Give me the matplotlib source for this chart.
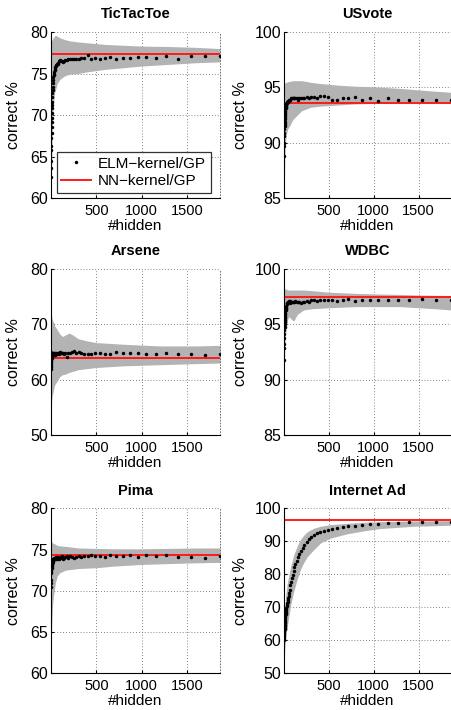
import matplotlib
matplotlib.use('Agg')
import matplotlib.pyplot as plt

plt.rcParams['font.family'] = ['Liberation Sans', 'DejaVu Sans']

# ---------------- data ----------------
x_hidden = [1, 2, 3, 4, 5, 6, 7, 8, 9, 10, 11, 12, 13, 14, 16, 17, 19, 21, 23, 26,
            28, 31, 34, 37, 41, 45, 50, 55, 60, 66, 73, 80, 88, 97, 107, 117, 129,
            142, 156, 172, 189, 208, 229, 252, 277, 304, 335, 368, 405, 446, 490,
            539, 593, 653, 718, 790, 869, 956, 1051, 1156, 1272, 1399, 1539, 1693, 1862]

titles = ['TicTacToe', 'USvote', 'Arsene', 'WDBC', 'Pima', 'Internet Ad']
nn_kernel = [77.3, 93.6, 64.0, 97.5, 74.35, 96.6]
y_ticks = [[60, 65, 70, 75, 80], [85, 90, 95, 100], [50, 60, 70, 80],
           [85, 90, 95, 100], [60, 65, 70, 75, 80], [50, 60, 70, 80, 90, 100]]
x_ticks = [500, 1000, 1500]
x_max = 1862

ttt_elm = [62.5, 63.6, 64.5, 65.8, 66.3, 67.2, 67.8, 68.5, 69.2, 69.6, 70.3, 70.8, 71.2, 71.6,
           72.2, 72.6, 73.0, 73.4, 73.8, 74.2, 74.6, 74.8, 75.0, 75.2, 75.4, 75.6, 75.8, 75.9,
           76.0, 76.1, 76.2, 76.3, 76.5, 76.6, 76.5, 76.5, 76.4, 76.5, 76.6, 76.6, 76.7, 76.7,
           76.8, 76.8, 76.8, 76.8, 76.9, 76.9, 77.2, 76.8, 76.9, 76.8, 76.9, 77.0, 76.8, 76.9,
           76.9, 77.0, 77.0, 76.9, 77.1, 76.8, 77.1, 77.1, 77.1]
ttt_band_x = [1, 3, 6, 10, 15, 25, 40, 50, 70, 100, 150, 200, 300, 400, 600, 800, 1000, 1300, 1600, 1862]
ttt_band_hi = [78.8, 78.8, 78.9, 79.0, 79.1, 79.3, 79.5, 79.6, 79.5, 79.3, 79.1, 78.95, 78.8, 78.7,
               78.5, 78.4, 78.3, 78.25, 78.15, 78.0]
ttt_band_lo = [60.0, 60.5, 62.0, 65.0, 68.5, 71.0, 72.6, 73.0, 73.8, 74.3, 74.7, 74.9, 75.0, 75.2,
               75.5, 75.7, 75.9, 76.1, 76.3, 76.4]

usv_elm = [88.8, 89.7, 90.0, 90.6, 90.9, 91.2, 91.5, 91.7, 91.9, 92.1, 92.3, 92.5, 92.6, 92.8,
           92.9, 93.0, 93.1, 93.2, 93.3, 93.4, 93.5, 93.6, 93.6, 93.7, 93.7, 93.8, 93.8, 93.8,
           93.9, 93.9, 93.9, 94.0, 94.0, 94.0, 94.0, 94.0, 94.0, 94.0, 93.9, 94.0, 94.0, 94.0,
           94.0, 94.1, 94.0, 94.1, 94.1, 94.0, 94.2, 94.2, 94.1, 93.9, 93.9, 94.0, 94.0, 94.1,
           93.9, 94.0, 93.8, 94.0, 93.9, 93.9, 93.9, 93.9, 93.9]
usv_band_x = [1, 3, 6, 10, 15, 25, 40, 70, 100, 150, 200, 300, 400, 600, 800, 1000, 1300, 1600, 1862]
usv_band_hi = [95.3, 95.3, 95.35, 95.4, 95.4, 95.45, 95.5, 95.55, 95.6, 95.6, 95.6, 95.45, 95.35,
               95.2, 95.1, 95.05, 94.9, 94.7, 94.55]
usv_band_lo = [85.0, 85.5, 87.0, 88.5, 89.7, 90.6, 91.2, 91.6, 92.1, 92.5, 92.9, 93.2, 93.3, 93.4,
               93.5, 93.55, 93.6, 93.6, 93.6]

ars_elm = [62.0, 62.3, 62.7, 63.0, 63.3, 63.6, 64.0, 64.3, 64.6, 64.8, 64.5, 64.9, 64.6, 64.8,
           64.5, 64.9, 64.4, 64.7, 64.9, 64.5, 64.6, 64.7, 64.5, 64.8, 64.5, 64.6, 64.8, 64.7,
           64.9, 64.7, 64.8, 64.9, 64.7, 65.0, 64.9, 64.8, 64.9, 64.7, 64.8, 64.1, 64.9, 64.9,
           65.0, 65.1, 64.9, 65.0, 64.8, 64.7, 64.6, 64.6, 64.9, 64.8, 64.6, 64.6, 65.0, 64.8,
           64.8, 64.9, 64.6, 64.7, 64.9, 64.6, 64.7, 64.5, 64.6]
ars_band_x = [1, 3, 6, 10, 15, 25, 40, 70, 100, 130, 160, 200, 240, 300, 400, 500, 800, 1200, 1600, 1862]
ars_band_hi = [72.3, 72.0, 71.6, 71.2, 70.9, 70.5, 69.8, 69.0, 68.2, 67.8, 68.1, 68.4, 68.1, 67.4,
               67.0, 66.7, 66.4, 66.1, 66.1, 66.2]
ars_band_lo = [50.5, 54.0, 55.5, 56.5, 57.2, 57.8, 59.0, 59.8, 60.6, 60.9, 61.0, 61.3, 61.5, 61.8,
               62.0, 62.2, 62.5, 62.7, 62.9, 63.0]

wdbc_elm = [91.8, 92.9, 93.2, 93.8, 94.1, 94.5, 94.8, 95.0, 95.2, 95.4, 95.6, 95.7, 95.8, 95.9,
            96.0, 96.2, 96.3, 96.4, 96.5, 96.6, 96.7, 96.8, 96.9, 96.9, 97.0, 97.0, 97.0, 97.1,
            97.0, 96.9, 97.1, 97.0, 97.0, 97.0, 97.0, 97.0, 97.1, 97.0, 97.0, 97.0, 96.9, 97.0,
            97.0, 97.1, 97.0, 97.2, 97.2, 97.1, 97.2, 97.2, 97.2, 97.2, 97.1, 97.2, 97.3, 97.1,
            97.2, 97.2, 97.2, 97.2, 97.2, 97.2, 97.3, 97.2, 97.2]
wdbc_band_x = [1, 3, 6, 10, 20, 40, 55, 90, 110, 150, 220, 300, 500, 800, 1000, 1300, 1500, 1700, 1862]
wdbc_band_hi = [98.2, 98.2, 98.2, 98.2, 98.2, 98.1, 98.1, 98.1, 98.1, 98.1, 98.1, 98.05, 97.9,
                97.8, 97.75, 97.7, 97.65, 97.62, 97.6]
wdbc_band_lo = [85.0, 87.5, 91.0, 93.0, 94.3, 95.4, 95.7, 95.4, 95.3, 95.9, 96.3, 96.4, 96.5, 96.6,
                96.6, 96.6, 96.5, 96.4, 96.3]

pima_elm = [70.4, 71.0, 71.3, 72.1, 72.3, 72.5, 72.8, 73.0, 73.1, 73.2, 73.3, 73.4, 73.5, 73.6,
            73.5, 73.6, 73.7, 73.5, 73.8, 73.7, 73.9, 73.8, 73.9, 74.0, 73.9, 74.0, 74.0, 73.9,
            74.1, 74.0, 73.9, 74.1, 73.8, 74.0, 74.1, 74.2, 73.9, 74.0, 74.1, 74.2, 74.0, 74.2,
            74.1, 74.0, 74.1, 74.2, 74.1, 74.2, 74.2, 74.3, 74.2, 74.2, 74.1, 74.3, 74.2, 74.2,
            74.3, 74.1, 74.4, 74.2, 74.3, 74.1, 74.1, 74.0, 74.2]
pima_band_x = [1, 3, 6, 10, 20, 30, 50, 70, 100, 160, 300, 500, 700, 1000, 1300, 1600, 1862]
pima_band_hi = [76.0, 76.0, 76.0, 75.9, 75.8, 75.75, 75.65, 75.5, 75.45, 75.4, 75.2, 75.15, 75.1,
                75.1, 75.15, 75.2, 75.2]
pima_band_lo = [60.5, 62.5, 64.5, 66.3, 68.5, 69.5, 71.0, 71.8, 72.2, 72.5, 72.7, 72.8, 73.0,
                73.2, 73.3, 73.4, 73.45]

iad_elm = [60.0, 60.4, 61.0, 61.6, 62.2, 62.8, 63.3, 63.8, 64.3, 64.7, 65.1, 65.5, 65.9, 66.3,
           67.0, 67.3, 67.8, 68.3, 68.8, 69.4, 69.8, 70.3, 70.7, 71.2, 71.7, 72.2, 72.8, 73.4,
           74.3, 75.3, 76.6, 77.8, 78.8, 79.8, 81.0, 82.1, 83.1, 84.1, 85.2, 86.1, 87.0, 87.9,
           88.9, 89.8, 90.7, 91.4, 92.0, 92.5, 92.9, 93.3, 93.6, 93.9, 94.1, 94.4, 94.6, 94.8,
           95.0, 95.2, 95.4, 95.6, 95.7, 95.8, 95.9, 96.0, 96.0]
iad_band_x = [1, 3, 6, 10, 20, 37, 74, 111, 148, 185, 222, 259, 333, 407, 518, 703, 888, 1073, 1443, 1862]
iad_band_hi = [66.0, 67.0, 68.5, 70.0, 73.5, 77.1, 82.3, 86.0, 88.6, 90.6, 91.9, 92.9, 94.0, 94.6,
               95.1, 95.5, 95.8, 96.0, 96.2, 96.3]
iad_band_lo = [50.0, 52.0, 55.0, 57.5, 61.0, 64.0, 70.5, 75.0, 78.5, 81.5, 83.6, 85.3, 87.5, 89.5,
               91.0, 92.3, 93.2, 93.9, 94.6, 94.9]

elm_series = [ttt_elm, usv_elm, ars_elm, wdbc_elm, pima_elm, iad_elm]
band_x = [ttt_band_x, usv_band_x, ars_band_x, wdbc_band_x, pima_band_x, iad_band_x]
band_hi = [ttt_band_hi, usv_band_hi, ars_band_hi, wdbc_band_hi, pima_band_hi, iad_band_hi]
band_lo = [ttt_band_lo, usv_band_lo, ars_band_lo, wdbc_band_lo, pima_band_lo, iad_band_lo]

# ---------------- layout ----------------
W, H = 452, 710
fig = plt.figure(figsize=(W / 100, H / 100), dpi=100)
col_px = [(51, 220), (284, 451)]
row_px = [(32, 198), (269, 435), (508.5, 673)]

for i in range(6):
    r, c = divmod(i, 2)
    l, rgt = col_px[c]
    t, b = row_px[r]
    ax = fig.add_axes([l / W, 1 - b / H, (rgt - l) / W, (b - t) / H])
    ax.set_axisbelow(True)
    ax.fill_between(band_x[i], band_lo[i], band_hi[i], color='#b3b3b3', lw=0, zorder=1)
    ax.axhline(nn_kernel[i], color='#ff1a1a', lw=1.4, zorder=2, label='NN\u2212kernel/GP')
    ax.plot(x_hidden, elm_series[i], 'o', ms=2.5, mew=0, color='k', zorder=3,
            label='ELM\u2212kernel/GP')
    ax.set_xlim(1, x_max)
    yt = y_ticks[i]
    ax.set_ylim(yt[0], yt[-1])
    ax.set_yticks(yt)
    ax.set_xticks(x_ticks)
    ax.grid(True, linestyle=(0, (1, 2.5)), color='0.35', lw=0.6)
    ax.tick_params(axis='y', labelsize=11.5, direction='in', length=2, pad=2)
    ax.tick_params(axis='x', labelsize=10.5, direction='in', length=2, pad=4)
    for s in ['left', 'bottom']:
        ax.spines[s].set_color('k')
        ax.spines[s].set_linewidth(0.8)
    ax.spines['top'].set_visible(False)
    ax.spines['right'].set_linestyle((0, (1, 2.5)))
    ax.spines['right'].set_color('0.35')
    ax.spines['right'].set_linewidth(0.6)
    ax.set_title(titles[i], fontsize=10.5, fontweight='bold', pad=10)
    ax.set_xlabel('#hidden', fontsize=11)
    ax.set_ylabel('correct %', fontsize=11.5)
    ax.xaxis.set_label_coords(0.5, -0.128)
    ax.yaxis.set_label_coords(-0.175 if c == 0 else -0.215, 0.5)
    if i == 0:
        h, lab = ax.get_legend_handles_labels()
        leg = ax.legend(h[::-1], lab[::-1], loc='lower left',
                        bbox_to_anchor=(0.035, 0.03, 0.91, 0.265), mode='expand',
                        fontsize=11, frameon=True, fancybox=False, borderaxespad=0,
                        handlelength=1.9, handletextpad=0.5, borderpad=0.3,
                        labelspacing=0.25, markerscale=1.0)
        leg.get_frame().set_edgecolor('k')
        leg.get_frame().set_linewidth(0.9)

fig.savefig('out.png', dpi=100)
